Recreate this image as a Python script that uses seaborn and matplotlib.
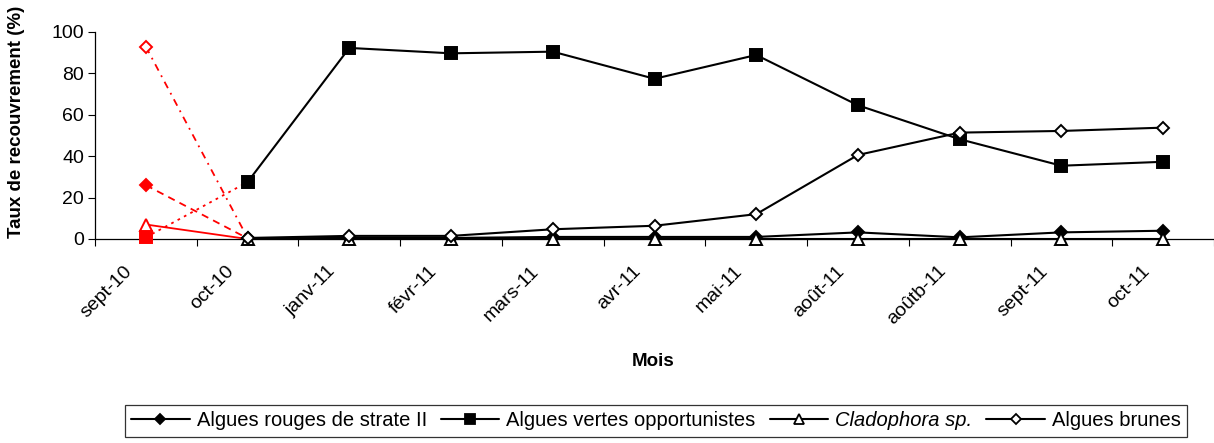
import matplotlib
matplotlib.use("Agg")
import matplotlib.pyplot as plt
import matplotlib.transforms as mtransforms
import seaborn as sns
import numpy as np
import pandas as pd
from matplotlib.lines import Line2D

months = ["sept-10", "oct-10", "janv-11", "févr-11", "mars-11", "avr-11",
          "mai-11", "août-11", "aoûtb-11", "sept-11", "oct-11"]
rouges = [26, 0.3, 0.5, 0.5, 1.0, 1.0, 1.0, 3.2, 0.8, 3.2, 4.0]
vertes = [0.8, 27.5, 92.3, 89.7, 90.5, 77.4, 88.9, 64.6, 48.2, 35.4, 37.3]
cladophora = [7, 0, 0, 0, 0, 0, 0, 0, 0, 0, 0]
brunes = [92.9, 0.5, 1.5, 1.5, 4.7, 6.4, 12.0, 40.6, 51.4, 52.2, 53.8]

labels = ["Algues rouges de strate II", "Algues vertes opportunistes",
          "Cladophora sp.", "Algues brunes"]

sns.set_theme(style="white")
plt.rcParams["font.family"] = ["Liberation Sans", "DejaVu Sans"]
plt.rcParams.update({"text.color": "black", "axes.labelcolor": "black",
                     "xtick.color": "black", "ytick.color": "black"})

fig = plt.figure(figsize=(12.14, 4.43), dpi=100)
ax = fig.add_axes([95 / 1214, 1 - 239 / 443, 1 - 95 / 1214, 207 / 443])

x = np.arange(len(months))

series = [
    (rouges, "D", 6.5, "filled", (0, (4, 3))),
    (vertes, "s", 9, "filled", (0, (1.5, 2.5))),
    (cladophora, "^", 8.5, "open", "-"),
    (brunes, "D", 6.0, "open", (0, (4, 3, 1, 3))),
]

# red first segment (sept-10 -> oct-10)
for vals, mk, ms, fill, ls in series:
    df = pd.DataFrame({"x": x[:2], "y": vals[:2]})
    sns.lineplot(data=df, x="x", y="y", ax=ax, color="red", linewidth=1.3,
                 linestyle=ls, marker=None, zorder=2)
    fc = "red" if fill == "filled" else "white"
    ax.plot(x[:1], vals[:1], linestyle="none", marker=mk, markersize=ms,
            markerfacecolor=fc, markeredgecolor="red", markeredgewidth=1.4,
            zorder=3, clip_on=False)

# black segment (oct-10 onwards)
for vals, mk, ms, fill, ls in series:
    df = pd.DataFrame({"x": x[1:], "y": vals[1:]})
    fc = "black" if fill == "filled" else "white"
    sns.lineplot(data=df, x="x", y="y", ax=ax, color="black", linewidth=1.5,
                 marker=mk, markersize=ms, markerfacecolor=fc,
                 markeredgecolor="black", markeredgewidth=1.4, zorder=4,
                 clip_on=False)

ax.set_xlim(-0.5, len(months) - 0.5)
ax.set_ylim(0, 100)
ax.set_yticks([0, 20, 40, 60, 80, 100])
ax.set_xticks(x)
ax.set_xticklabels(months, rotation=45, ha="right", va="top", rotation_mode="default")
ax.set_xticks(np.arange(-0.5, len(months), 1.0), minor=True)
ax.tick_params(axis="x", which="major", length=0, pad=17, labelsize=14)
ax.tick_params(axis="x", which="minor", length=5, width=0.8, direction="out", bottom=True)
ax.tick_params(axis="y", which="major", length=5, width=0.8, direction="out",
               labelsize=14, pad=3, left=True)
offset = mtransforms.ScaledTranslation(-10 / 100, 0, fig.dpi_scale_trans)
for lab in ax.get_xticklabels():
    lab.set_transform(lab.get_transform() + offset)

for s in ["top", "right"]:
    ax.spines[s].set_visible(False)
for s in ["left", "bottom"]:
    ax.spines[s].set_color("black")
    ax.spines[s].set_linewidth(0.9)
ax.set_facecolor("white")

ax.set_xlabel("")
ax.set_ylabel("")
fig.text(17 / 1214, 1 - 122 / 443, "Taux de recouvrement (%)", rotation=90,
         ha="center", va="center", fontsize=13.5, fontweight="bold")
fig.text(653 / 1214, 1 - 362 / 443, "Mois", ha="center", va="center",
         fontsize=13.5, fontweight="bold")

handles = []
for vals, mk, ms, fill, ls in series:
    fc = "black" if fill == "filled" else "white"
    handles.append(Line2D([], [], color="black", linewidth=1.5, marker=mk,
                          markersize=ms * 0.8, markerfacecolor=fc,
                          markeredgecolor="black", markeredgewidth=1.3))
leg = fig.legend(handles, labels, loc="center", bbox_to_anchor=(656 / 1214, 1 - 421 / 443),
                 ncol=4, frameon=True, fancybox=False, fontsize=14.5,
                 handlelength=2.9, handletextpad=0.35, columnspacing=0.7,
                 borderpad=0.3, edgecolor="black")
leg.get_frame().set_linewidth(0.9)
for t in leg.get_texts():
    t.set_color("black")
    if t.get_text().startswith("Cladophora"):
        t.set_fontstyle("italic")

fig.savefig("out.png", dpi=100, facecolor="white")
